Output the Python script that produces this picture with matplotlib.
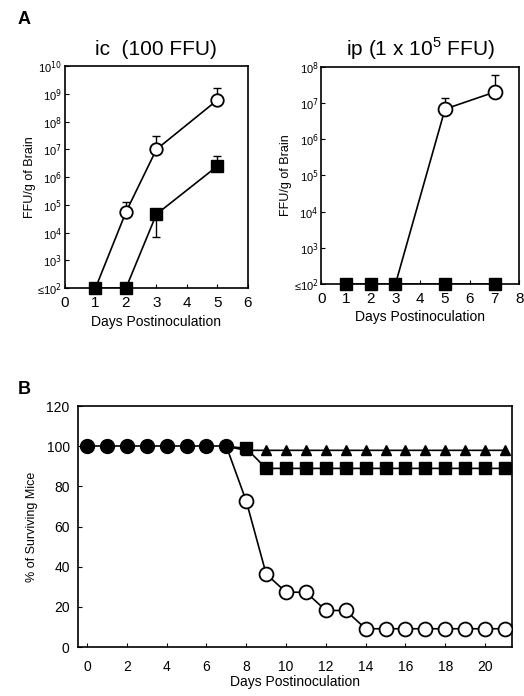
import numpy as np
import matplotlib
matplotlib.use('Agg')
import matplotlib.pyplot as plt
from matplotlib.ticker import FixedLocator, FixedFormatter, NullLocator

plt.rcParams['font.family'] = ['Liberation Sans', 'DejaVu Sans']
plt.rcParams['axes.linewidth'] = 1.2

# Panel A, ic (100 FFU)
ic_open_days = [1, 2, 3, 5]
ic_open_vals = [1e2, 5.5e4, 1e7, 6e8]
ic_open_up = [1e2, 1.3e5, 3e7, 1.6e9]
ic_fill_days = [1, 2, 3, 5]
ic_fill_vals = [1e2, 1e2, 4.6e4, 2.5e6]
ic_fill_lo = [1e2, 1e2, 7e3, 2.5e6]
ic_fill_up = [1e2, 1e2, 4.6e4, 6e6]

# Panel A, ip (1 x 10^5 FFU)
ip_open_days = [3, 5, 7]
ip_open_vals = [1e2, 6.8e6, 2e7]
ip_open_up = [1e2, 1.4e7, 6e7]
ip_fill_days = [1, 2, 3, 5, 7]
ip_fill_vals = [1e2, 1e2, 1e2, 1e2, 1e2]

# Panel B, survival
surv_fill_days = [0, 1, 2, 3, 4, 5, 6, 7]
surv_fill_vals = [100, 100, 100, 100, 100, 100, 100, 100]
surv_tri_days = list(range(7, 22))
surv_tri_vals = [100] + [98] * 14
surv_sq_days = list(range(7, 22))
surv_sq_vals = [100, 99] + [89] * 13
surv_open_days = list(range(7, 22))
surv_open_vals = [100, 72.7, 36.4, 27.3, 27.3, 18.2, 18.2] + [9.1] * 8


def log_labels(ax, exps):
    ticks = [10.0 ** e for e in exps]
    labels = ['≤10$^{%d}$' % exps[0]] + ['10$^{%d}$' % e for e in exps[1:]]
    ax.yaxis.set_major_locator(FixedLocator(ticks))
    ax.yaxis.set_major_formatter(FixedFormatter(labels))
    ax.yaxis.set_minor_locator(NullLocator())


fig = plt.figure(figsize=(5.24, 6.96), dpi=100)

ax1 = fig.add_axes([0.124, 0.586, 0.349, 0.319])
ax1.set_yscale('log')
ax1.plot(ic_open_days, ic_open_vals, color='black', lw=1.2, zorder=2)
ax1.plot(ic_fill_days, ic_fill_vals, color='black', lw=1.2, zorder=2)
up = np.array(ic_open_up) - np.array(ic_open_vals)
ax1.errorbar(ic_open_days, ic_open_vals, yerr=[np.zeros(len(up)), up], fmt='none',
             ecolor='black', elinewidth=1, capsize=3, zorder=2)
lo = np.array(ic_fill_vals) - np.array(ic_fill_lo)
up2 = np.array(ic_fill_up) - np.array(ic_fill_vals)
ax1.errorbar(ic_fill_days, ic_fill_vals, yerr=[lo, up2], fmt='none',
             ecolor='black', elinewidth=1, capsize=3, zorder=2)
ax1.plot(ic_open_days[1:], ic_open_vals[1:], 'o', ms=9, mfc='white', mec='black', mew=1.3, zorder=3)
ax1.plot(ic_fill_days, ic_fill_vals, 's', ms=9, color='black', zorder=4, clip_on=False)
ax1.set_xlim(0, 6)
ax1.set_ylim(1e2, 1e10)
ax1.set_xticks(range(0, 7))
log_labels(ax1, list(range(2, 11)))
ax1.set_xlabel('Days Postinoculation', fontsize=10, labelpad=3)
ax1.set_ylabel('FFU/g of Brain', fontsize=9, labelpad=1)
ax1.set_title('ic  (100 FFU)', fontsize=15, pad=8)
ax1.tick_params(axis='x', labelsize=11, direction='in', length=3, pad=6)
ax1.tick_params(axis='y', labelsize=8, direction='in', length=3, pad=2)

ax2 = fig.add_axes([0.613, 0.592, 0.378, 0.312])
ax2.set_yscale('log')
ax2.plot(ip_open_days, ip_open_vals, color='black', lw=1.2, zorder=2)
ax2.plot(ip_fill_days, ip_fill_vals, color='black', lw=1.2, zorder=2)
up3 = np.array(ip_open_up) - np.array(ip_open_vals)
ax2.errorbar(ip_open_days, ip_open_vals, yerr=[np.zeros(len(up3)), up3], fmt='none',
             ecolor='black', elinewidth=1, capsize=3, zorder=2)
ax2.plot(ip_open_days[1:], ip_open_vals[1:], 'o', ms=10, mfc='white', mec='black', mew=1.3, zorder=3)
ax2.plot(ip_fill_days, ip_fill_vals, 's', ms=9, color='black', zorder=4, clip_on=False)
ax2.set_xlim(0, 8)
ax2.set_ylim(1e2, 1e8)
ax2.set_xticks(range(0, 9))
log_labels(ax2, list(range(2, 9)))
ax2.set_xlabel('Days Postinoculation', fontsize=10, labelpad=3)
ax2.set_ylabel('FFU/g of Brain', fontsize=9, labelpad=1)
ax2.set_title('ip (1 x 10$^{\\mathregular{5}}$ FFU)', fontsize=15, pad=8)
ax2.tick_params(axis='x', labelsize=11, direction='in', length=3, pad=6)
ax2.tick_params(axis='y', labelsize=8, direction='in', length=3, pad=2)

ax3 = fig.add_axes([0.149, 0.0704, 0.828, 0.346])
ax3.plot(surv_tri_days, surv_tri_vals, color='black', lw=1.2, zorder=2)
ax3.plot(surv_tri_days[1:], surv_tri_vals[1:], '^', ms=7.5, color='black', zorder=3)
ax3.plot(surv_sq_days, surv_sq_vals, color='black', lw=1.2, zorder=2)
ax3.plot(surv_sq_days[1:], surv_sq_vals[1:], 's', ms=9, color='black', zorder=3)
ax3.plot(surv_open_days, surv_open_vals, color='black', lw=1.2, zorder=2)
ax3.plot(surv_open_days[1:], surv_open_vals[1:], 'o', ms=10, mfc='white', mec='black', mew=1.3, zorder=3)
ax3.plot(surv_fill_days, surv_fill_vals, 'o-', ms=10, color='black', lw=1.2, zorder=4)
ax3.set_xlim(-0.45, 21.35)
ax3.set_ylim(0, 120)
ax3.set_xticks(range(0, 21, 2))
ax3.set_yticks(range(0, 121, 20))
ax3.set_xlabel('Days Postinoculation', fontsize=10, labelpad=1)
ax3.set_ylabel('% of Surviving Mice', fontsize=9, labelpad=6)
ax3.tick_params(axis='x', labelsize=10, direction='in', length=3, pad=9)
ax3.tick_params(axis='y', labelsize=10, direction='in', length=3, pad=6)

fig.text(0.033, 0.972, 'A', fontsize=13, fontweight='bold', va='center')
fig.text(0.033, 0.44, 'B', fontsize=13, fontweight='bold', va='center')

fig.savefig('out.png', dpi=100)
